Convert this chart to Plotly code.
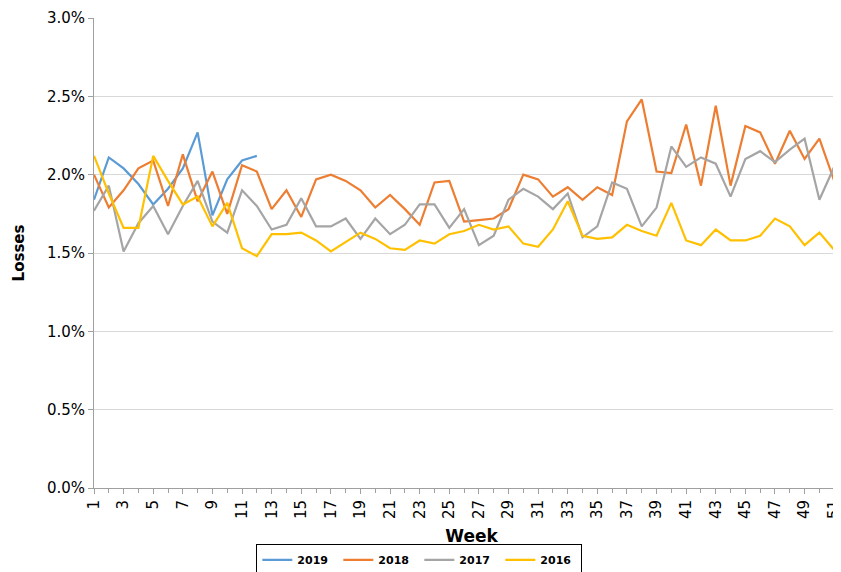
import plotly.graph_objects as go

weeks = list(range(1, 53))

loss_2019 = [1.84, 2.11, 2.04, 1.94, 1.81, 1.91, 2.04, 2.27, 1.74, 1.97, 2.09, 2.12]
loss_2018 = [2.00, 1.79, 1.90, 2.04, 2.09, 1.80, 2.13, 1.83, 2.02, 1.75, 2.06, 2.02, 1.78, 1.90, 1.73, 1.97,
             2.00, 1.96, 1.90, 1.79, 1.87, 1.78, 1.68, 1.95, 1.96, 1.70, 1.71, 1.72, 1.78, 2.00, 1.97, 1.86,
             1.92, 1.84, 1.92, 1.87, 2.34, 2.48, 2.02, 2.01, 2.32, 1.93, 2.44, 1.93, 2.31, 2.27, 2.07, 2.28,
             2.10, 2.23, 1.96, 1.90]
loss_2017 = [1.77, 1.93, 1.51, 1.69, 1.80, 1.62, 1.80, 1.96, 1.70, 1.63, 1.90, 1.80, 1.65, 1.68, 1.85, 1.67,
             1.67, 1.72, 1.59, 1.72, 1.62, 1.68, 1.81, 1.81, 1.66, 1.78, 1.55, 1.61, 1.84, 1.91, 1.86, 1.78,
             1.88, 1.60, 1.67, 1.95, 1.91, 1.67, 1.79, 2.18, 2.05, 2.11, 2.07, 1.86, 2.10, 2.15, 2.08, 2.16,
             2.23, 1.84, 2.05, 2.14]
loss_2016 = [2.12, 1.88, 1.66, 1.66, 2.12, 1.96, 1.81, 1.86, 1.67, 1.82, 1.53, 1.48, 1.62, 1.62, 1.63, 1.58,
             1.51, 1.57, 1.63, 1.59, 1.53, 1.52, 1.58, 1.56, 1.62, 1.64, 1.68, 1.65, 1.67, 1.56, 1.54, 1.65,
             1.83, 1.61, 1.59, 1.60, 1.68, 1.64, 1.61, 1.82, 1.58, 1.55, 1.65, 1.58, 1.58, 1.61, 1.72, 1.67,
             1.55, 1.63, 1.52, 1.69]

series = [("2019", loss_2019, "#5B9BD5"), ("2018", loss_2018, "#ED7D31"),
          ("2017", loss_2017, "#A5A5A5"), ("2016", loss_2016, "#FFC000")]

fig = go.Figure()
for name, vals, col in series:
    fig.add_trace(go.Scatter(x=weeks[:len(vals)], y=[v / 100 for v in vals], mode="lines",
                             name="<b>" + name + "</b>", line=dict(color=col, width=2.2)))

# page has ~7px offset, so margins are shifted to line up with the reference
fig.update_layout(
    width=841, height=572, plot_bgcolor="white", paper_bgcolor="white",
    margin=dict(l=86, r=0, t=10, b=92),
    font=dict(family="DejaVu Sans", color="black"),
    legend=dict(orientation="h", x=0.215, y=-0.12, xanchor="left", yanchor="top",
                bordercolor="black", borderwidth=1, font=dict(size=11, family="DejaVu Sans"),
                entrywidth=36, itemwidth=30, tracegroupgap=0),
)
fig.update_xaxes(range=[1, 52], tickmode="array", tickvals=weeks[::2], tickangle=-90,
                 tickfont=dict(size=15), ticks="outside", ticklen=5, tickcolor="#a0a0a0",
                 minor=dict(dtick=1, ticks="outside", ticklen=4, tickcolor="#a0a0a0"),
                 showline=True, linecolor="#a0a0a0", showgrid=False, automargin=False,
                 title=dict(text="<b>Week</b>", font=dict(size=17), standoff=12))
fig.update_yaxes(range=[0, 0.03], dtick=0.005, tickformat=".1%", tickfont=dict(size=15),
                 showline=True, linecolor="#a0a0a0", gridcolor="#d9d9d9", zeroline=False,
                 ticks="outside", ticklen=5, tickcolor="#a0a0a0", automargin=False,
                 title=dict(text="<b>Losses</b>", font=dict(size=15), standoff=18))

fig.write_html("out.html")
